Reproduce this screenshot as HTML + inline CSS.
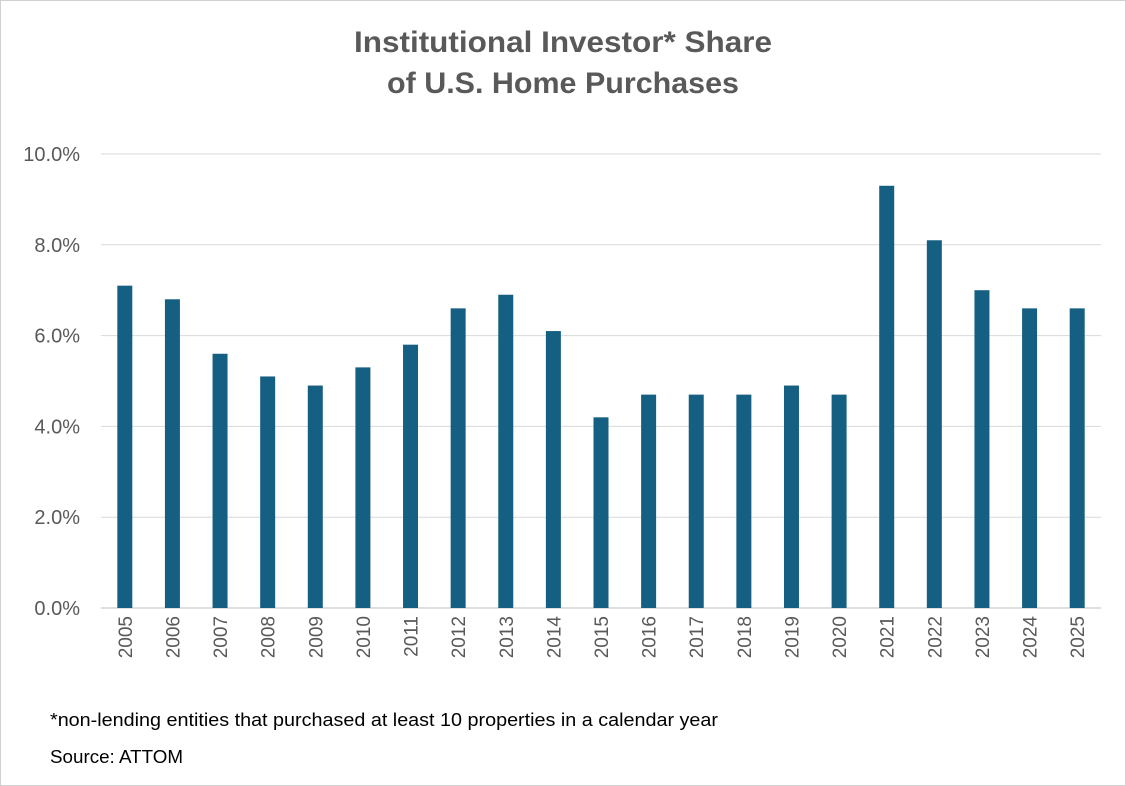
<!DOCTYPE html>
<html><head><meta charset="utf-8"><style>
body{margin:0;background:#fff;}
svg{display:block;font-family:"Liberation Sans",sans-serif;}
</style></head><body>
<svg id="chart" width="1126" height="786">
<rect x="0.5" y="0.5" width="1125" height="785" fill="#fff" stroke="#d0d0d0"/>
<text x="563" y="52" text-anchor="middle" font-size="30" font-weight="bold" fill="#595959" textLength="418" lengthAdjust="spacingAndGlyphs">Institutional Investor* Share</text>
<text x="563" y="93" text-anchor="middle" font-size="30" font-weight="bold" fill="#595959" textLength="352" lengthAdjust="spacingAndGlyphs">of U.S. Home Purchases</text>
<g id="grid"></g><g id="bars"></g><g id="xlabels"></g><g id="ylabels"></g>
<text x="50" y="726" font-size="18.5" fill="#000" textLength="668" lengthAdjust="spacingAndGlyphs">*non-lending entities that purchased at least 10 properties in a calendar year</text>
<text x="50" y="763" font-size="18.5" fill="#000" textLength="133" lengthAdjust="spacingAndGlyphs">Source: ATTOM</text>
</svg>
<script>
const categories=["2005","2006","2007","2008","2009","2010","2011","2012","2013","2014","2015","2016","2017","2018","2019","2020","2021","2022","2023","2024","2025"];
const values=[7.1,6.8,5.6,5.1,4.9,5.3,5.8,6.6,6.9,6.1,4.2,4.7,4.7,4.7,4.9,4.7,9.3,8.1,7.0,6.6,6.6];
const yTicks=[0,2,4,6,8,10];
const yTickLabels=["0.0%","2.0%","4.0%","6.0%","8.0%","10.0%"];
const NS="http://www.w3.org/2000/svg";
const L=101,R=1101,T=154,B=608,yMax=10;
const y=v=>B-(v/yMax)*(B-T);
const bw=(R-L)/categories.length;
const x=i=>L+bw*(i+0.5);
function mk(tag,attrs,parent){const e=document.createElementNS(NS,tag);for(const k in attrs)e.setAttribute(k,attrs[k]);parent.appendChild(e);return e;}
const grid=document.getElementById('grid'),bars=document.getElementById('bars'),xl=document.getElementById('xlabels'),yl=document.getElementById('ylabels');
yTicks.forEach((t,i)=>{
 const ln=mk('line',{x1:L,x2:R,y1:y(t),y2:y(t),stroke:t===0?'#bfbfbf':'#d9d9d9','stroke-width':1},grid);
 
 
 const tx=mk('text',{x:80,y:y(t)+7,'text-anchor':'end','font-size':20,fill:'#595959'},yl);
 tx.textContent=yTickLabels[i];
 
 
});
categories.forEach((c,i)=>{
 const r=mk('rect',{x:x(i)-7.5,y:y(values[i]),width:15,height:B-y(values[i]),fill:'#156082'},bars);
 
 
 const tx=mk('text',{transform:`translate(${x(i)+7},${B+8}) rotate(-90)`,'text-anchor':'end','font-size':19,fill:'#595959'},xl);
 tx.textContent=c;
 
 
});
</script>
</body></html>
